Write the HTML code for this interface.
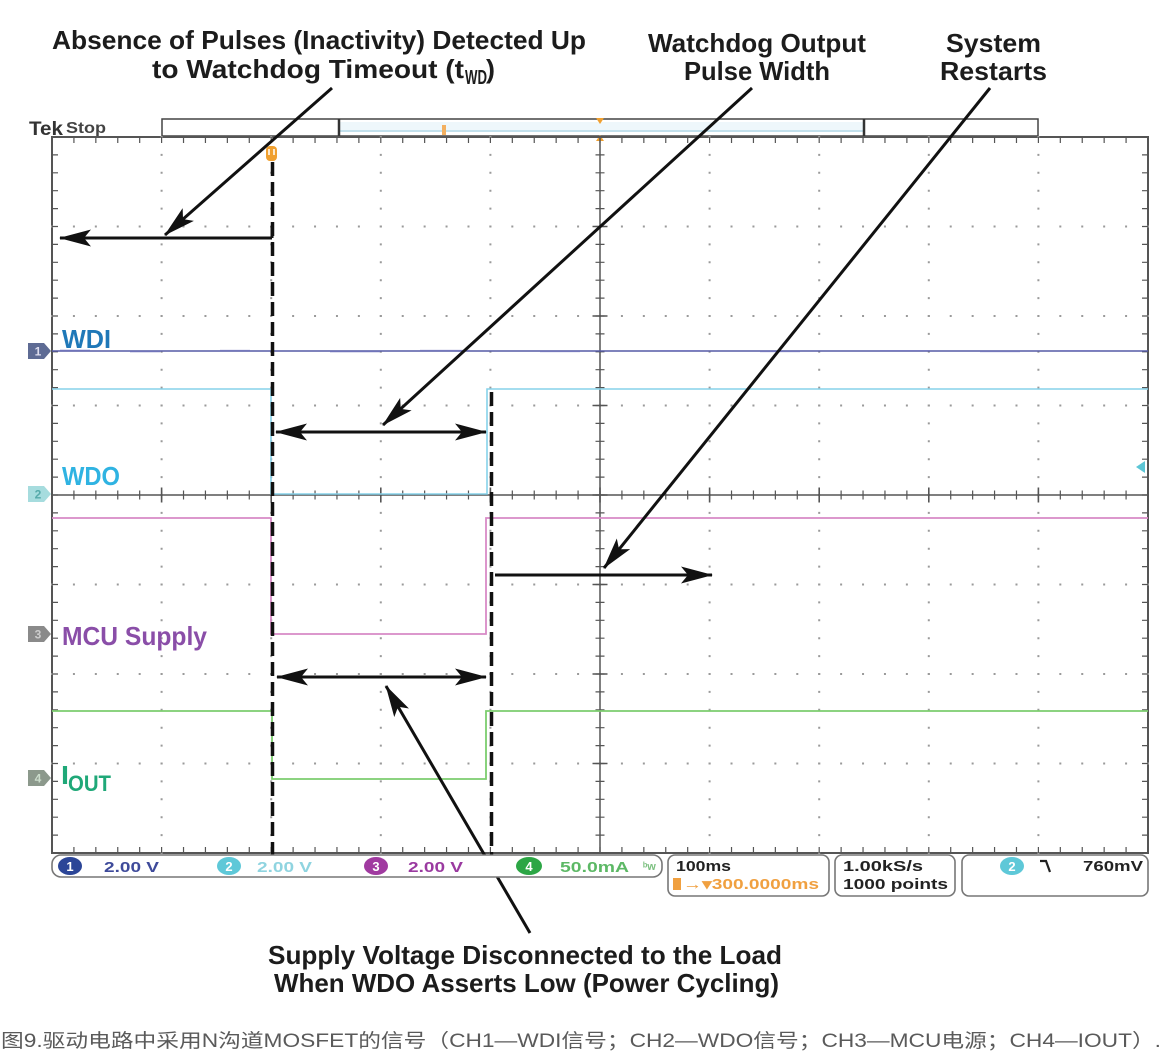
<!DOCTYPE html>
<html><head><meta charset="utf-8"><style>
html,body{margin:0;padding:0;background:#fff;}
svg{display:block;}
text{font-family:"Liberation Sans","Noto Sans CJK SC",sans-serif;}
</style></head><body>
<svg width="1174" height="1062" viewBox="0 0 1174 1062" xmlns="http://www.w3.org/2000/svg">
<defs>
<marker id="ah" markerWidth="32" markerHeight="18" refX="31" refY="9" orient="auto-start-reverse" markerUnits="userSpaceOnUse">
<path d="M0,0.5 L32,9 L0,17.5 L7,9 Z" fill="#111"/>
</marker>
</defs>
<rect width="1174" height="1062" fill="#fff"/>

<!-- Annotation texts -->
<g font-weight="bold" fill="#1c1c1c" font-size="26">
<text x="52" y="49" textLength="534" lengthAdjust="spacingAndGlyphs">Absence of Pulses (Inactivity) Detected Up</text>
<text x="152" y="78" textLength="312" lengthAdjust="spacingAndGlyphs">to Watchdog Timeout (t</text>
<text x="465" y="84" font-size="20" textLength="22" lengthAdjust="spacingAndGlyphs">WD</text>
<text x="486" y="78" textLength="9" lengthAdjust="spacingAndGlyphs">)</text>
<text x="648" y="52" textLength="218" lengthAdjust="spacingAndGlyphs">Watchdog Output</text>
<text x="684" y="80" textLength="146" lengthAdjust="spacingAndGlyphs">Pulse Width</text>
<text x="946" y="52" textLength="95" lengthAdjust="spacingAndGlyphs">System</text>
<text x="940" y="80" textLength="107" lengthAdjust="spacingAndGlyphs">Restarts</text>
<text x="268" y="964" textLength="514" lengthAdjust="spacingAndGlyphs">Supply Voltage Disconnected to the Load</text>
<text x="274" y="992" textLength="505" lengthAdjust="spacingAndGlyphs">When WDO Asserts Low (Power Cycling)</text>
</g>

<!-- Tek Stop -->
<text x="29" y="135" font-size="19" font-weight="bold" fill="#333" textLength="34" lengthAdjust="spacingAndGlyphs">Tek</text>
<text x="66" y="133" font-size="16" font-weight="bold" fill="#444" textLength="40" lengthAdjust="spacingAndGlyphs">Stop</text>

<!-- Top record bar -->
<rect x="162" y="119" width="876" height="17" fill="#fff" stroke="#444" stroke-width="1.5"/>
<rect x="340" y="122" width="523" height="10" fill="#eef7fb"/>
<line x1="340" y1="131" x2="863" y2="131" stroke="#a9d3e3" stroke-width="1.2"/>
<line x1="339" y1="119" x2="339" y2="136" stroke="#333" stroke-width="2.5"/>
<line x1="864" y1="119" x2="864" y2="136" stroke="#333" stroke-width="2.5"/>
<path d="M596,118 L604,118 L600,124 Z" fill="#f0a030"/>
<path d="M596,141 L604,141 L600,135 Z" fill="#f0a030"/>
<rect x="442" y="125" width="4" height="10" fill="#f3b060"/>

<!-- Grid border -->
<rect x="52" y="137" width="1096" height="716" fill="none" stroke="#555" stroke-width="2"/>

<!-- Dotted grid rows -->
<g stroke="#9a9a9a" stroke-width="2" stroke-dasharray="2 19.92">
<line x1="51" y1="226.5" x2="1149" y2="226.5"/>
<line x1="51" y1="316" x2="1149" y2="316"/>
<line x1="51" y1="405.5" x2="1149" y2="405.5"/>
<line x1="51" y1="584.5" x2="1149" y2="584.5"/>
<line x1="51" y1="674" x2="1149" y2="674"/>
<line x1="51" y1="763.5" x2="1149" y2="763.5"/>
</g>
<g stroke="#9a9a9a" stroke-width="2" stroke-dasharray="2 15.9">
<line x1="161.6" y1="136" x2="161.6" y2="854"/>
<line x1="271.2" y1="136" x2="271.2" y2="854"/>
<line x1="380.8" y1="136" x2="380.8" y2="854"/>
<line x1="490.4" y1="136" x2="490.4" y2="854"/>
<line x1="709.6" y1="136" x2="709.6" y2="854"/>
<line x1="819.2" y1="136" x2="819.2" y2="854"/>
<line x1="928.8" y1="136" x2="928.8" y2="854"/>
<line x1="1038.4" y1="136" x2="1038.4" y2="854"/>
</g>

<!-- Center axes -->
<line x1="52" y1="495" x2="1148" y2="495" stroke="#555" stroke-width="1.5"/>
<line x1="600" y1="137" x2="600" y2="853" stroke="#555" stroke-width="1.5"/>
<g stroke="#555" stroke-width="1.3">
<line x1="51.4" y1="495" x2="1149" y2="495" stroke-width="9" stroke-dasharray="1.2 20.72"/>
<line x1="600" y1="136.4" x2="600" y2="854" stroke-width="9" stroke-dasharray="1.2 16.7"/>
<line x1="51.2" y1="495" x2="1149" y2="495" stroke-width="15" stroke-dasharray="1.6 108"/>
<line x1="600" y1="136.2" x2="600" y2="854" stroke-width="15" stroke-dasharray="1.6 87.9"/>
</g>
<!-- Border ticks -->
<g stroke="#555">
<line x1="51.4" y1="140" x2="1149" y2="140" stroke-width="6" stroke-dasharray="1.2 20.72"/>
<line x1="51.4" y1="850" x2="1149" y2="850" stroke-width="6" stroke-dasharray="1.2 20.72"/>
<line x1="55" y1="136.4" x2="55" y2="854" stroke-width="6" stroke-dasharray="1.2 16.7"/>
<line x1="1145" y1="136.4" x2="1145" y2="854" stroke-width="6" stroke-dasharray="1.2 16.7"/>
</g>

<!-- Traces -->
<path d="M52,351 H1148" stroke="#555aa6" stroke-width="1.6" fill="none"/>
<path d="M60,350.3 H90 M130,351.8 H160 M220,350.4 H250 M330,351.7 H380 M420,350.4 H470 M540,351.6 H580 M660,350.5 H700 M760,351.6 H800 M880,350.5 H930 M980,351.6 H1020 M1060,350.5 H1100" stroke="#7a7cc0" stroke-width="1" fill="none"/>
<path d="M52,389 H271 V494 H487 V389 H1148" stroke="#86d2ea" stroke-width="1.6" fill="none"/>
<path d="M52,518 H271 V634 H486 V518 H1148" stroke="#d88ac6" stroke-width="1.8" fill="none"/>
<path d="M52,711 H272 V779 H486 V711 H1148" stroke="#7ccd6e" stroke-width="1.8" fill="none"/>

<!-- Channel markers -->
<g font-size="12" font-weight="bold" text-anchor="middle">
<path d="M28,343 H44 L51,351 L44,359 H28 Z" fill="#5e6b94"/>
<text x="38" y="355.5" fill="#dde">1</text>
<path d="M28,486 H44 L51,494 L44,502 H28 Z" fill="#a6dcde"/>
<text x="38" y="498.5" fill="#5aa">2</text>
<path d="M28,626 H44 L51,634 L44,642 H28 Z" fill="#8a8a8a"/>
<text x="38" y="638.5" fill="#ccc">3</text>
<path d="M28,770 H44 L51,778 L44,786 H28 Z" fill="#8c998c"/>
<text x="38" y="782.5" fill="#cdc">4</text>
</g>
<path d="M1136,467 L1145,461 L1145,473 Z" fill="#5cc6d6"/>

<!-- Channel labels -->
<g font-weight="bold" font-size="26">
<text x="62" y="348" fill="#1f78b8" textLength="49" lengthAdjust="spacingAndGlyphs">WDI</text>
<text x="62" y="485" fill="#2fb3e2" textLength="58" lengthAdjust="spacingAndGlyphs">WDO</text>
<text x="62" y="645" fill="#8a4ea8" textLength="145" lengthAdjust="spacingAndGlyphs">MCU Supply</text>
<text x="61" y="784" fill="#1fa878" textLength="8" lengthAdjust="spacingAndGlyphs">I</text>
<text x="68" y="791" fill="#1fa878" font-size="22" textLength="43" lengthAdjust="spacingAndGlyphs">OUT</text>
</g>

<!-- Trigger T marker -->
<rect x="266" y="146" width="11" height="15" rx="4" fill="#f0a030"/>
<path d="M269,149 V155 M274,149 V155" stroke="#fff" stroke-width="1.5"/>

<!-- Dashed lines -->
<line x1="272.5" y1="162" x2="272.5" y2="856" stroke="#111" stroke-width="3.5" stroke-dasharray="14 6"/>
<line x1="491.5" y1="392" x2="491.5" y2="856" stroke="#111" stroke-width="3.5" stroke-dasharray="14 6"/>

<!-- Arrows -->
<g stroke="#111" stroke-width="3" fill="none">
<line x1="332" y1="88" x2="165" y2="235" marker-end="url(#ah)"/>
<line x1="272" y1="238" x2="60" y2="238" marker-end="url(#ah)"/>
<line x1="272" y1="226" x2="272" y2="238"/>
<line x1="752" y1="88" x2="383" y2="425" marker-end="url(#ah)"/>
<line x1="276" y1="432" x2="486" y2="432" marker-start="url(#ah)" marker-end="url(#ah)"/>
<line x1="990" y1="88" x2="604" y2="568" marker-end="url(#ah)"/>
<line x1="495" y1="575" x2="712" y2="575" marker-end="url(#ah)"/>
<line x1="277" y1="677" x2="486" y2="677" marker-start="url(#ah)" marker-end="url(#ah)"/>
<line x1="530" y1="933" x2="386" y2="686" marker-end="url(#ah)"/>
</g>

<!-- Status bar -->
<g fill="#fff" stroke="#777" stroke-width="1.6">
<rect x="52" y="855" width="610" height="22" rx="9"/>
<rect x="668" y="855" width="161" height="41" rx="7"/>
<rect x="835" y="855" width="120" height="41" rx="7"/>
<rect x="962" y="855" width="186" height="41" rx="7"/>
</g>
<g font-size="15" font-weight="bold">
<ellipse cx="70" cy="866" rx="12" ry="9" fill="#2b4597"/>
<text x="70" y="871" fill="#fff" text-anchor="middle" font-size="13">1</text>
<text x="104" y="872" fill="#3e4a9a" textLength="55" lengthAdjust="spacingAndGlyphs">2.00 V</text>
<ellipse cx="229" cy="866" rx="12" ry="9" fill="#5ec8d8"/>
<text x="229" y="871" fill="#fff" text-anchor="middle" font-size="13">2</text>
<text x="257" y="872" fill="#8fd4e0" textLength="55" lengthAdjust="spacingAndGlyphs">2.00 V</text>
<ellipse cx="376" cy="866" rx="12" ry="9" fill="#a03aa0"/>
<text x="376" y="871" fill="#fff" text-anchor="middle" font-size="13">3</text>
<text x="408" y="872" fill="#9a3aa0" textLength="55" lengthAdjust="spacingAndGlyphs">2.00 V</text>
<ellipse cx="529" cy="866" rx="13" ry="9" fill="#2ca645"/>
<text x="529" y="871" fill="#fff" text-anchor="middle" font-size="13">4</text>
<text x="560" y="872" fill="#5cb865" textLength="69" lengthAdjust="spacingAndGlyphs">50.0mA</text>
<text x="643" y="870" fill="#7cc080" font-size="11">ᵇw</text>
<text x="676" y="871" fill="#222" textLength="55" lengthAdjust="spacingAndGlyphs">100ms</text>
<rect x="673" y="878" width="8" height="12" fill="#f0a040"/>
<text x="683" y="889" fill="#f0a040" textLength="136" lengthAdjust="spacingAndGlyphs">→▾300.0000ms</text>
<text x="843" y="871" fill="#222" textLength="80" lengthAdjust="spacingAndGlyphs">1.00kS/s</text>
<text x="843" y="889" fill="#222" textLength="105" lengthAdjust="spacingAndGlyphs">1000 points</text>
<ellipse cx="1012" cy="866" rx="12" ry="9" fill="#5ec8d8"/>
<text x="1012" y="871" fill="#fff" text-anchor="middle" font-size="13">2</text>
<path d="M1040,861 H1046 L1050,872" stroke="#222" stroke-width="2.2" fill="none"/>
<text x="1083" y="871" fill="#222" textLength="60" lengthAdjust="spacingAndGlyphs">760mV</text>
</g>

<!-- Caption -->
<text x="1" y="1047" font-size="19" fill="#5a5a5a" font-family="'Liberation Sans','Noto Sans CJK SC',sans-serif" textLength="1160" lengthAdjust="spacingAndGlyphs">图9.驱动电路中采用N沟道MOSFET的信号（CH1—WDI信号；CH2—WDO信号；CH3—MCU电源；CH4—IOUT）.</text>
</svg>
</body></html>
